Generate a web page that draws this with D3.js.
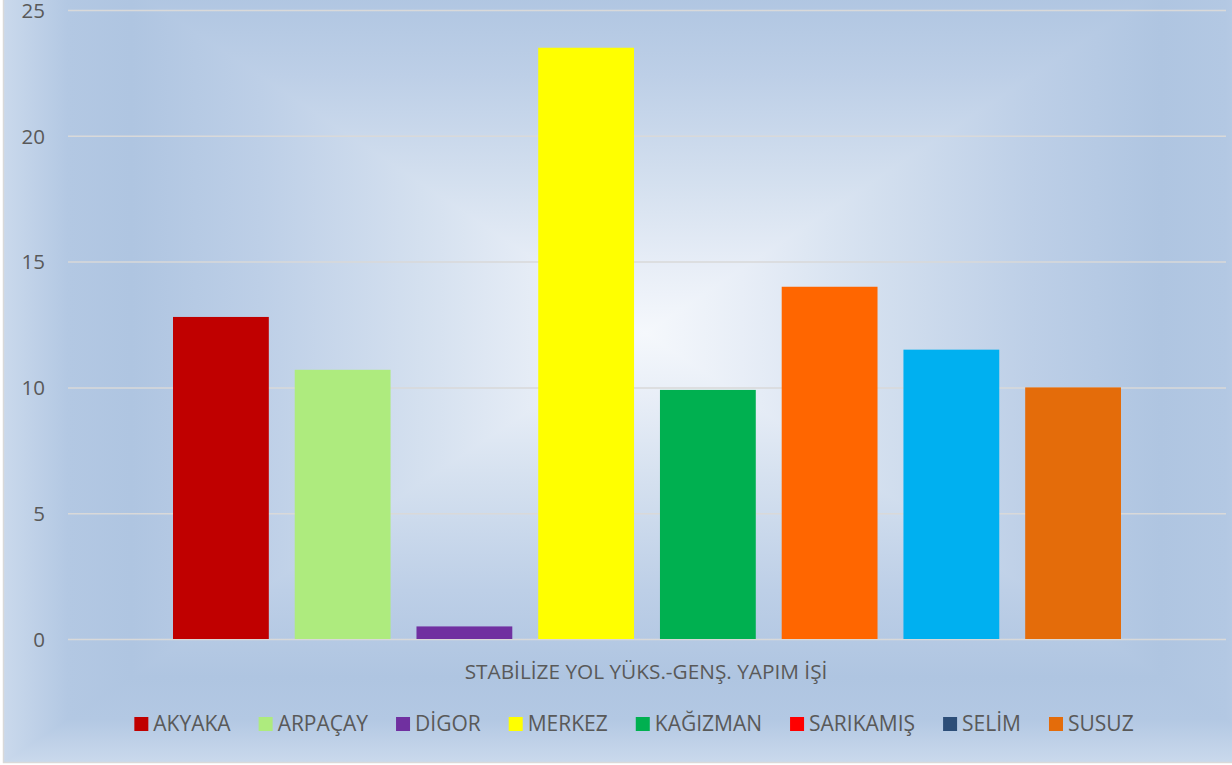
<!DOCTYPE html>
<html>
<head>
<meta charset="utf-8">
<script src="https://cdn.jsdelivr.net/npm/d3@7"></script>
<style>
  body { margin: 0; background: #ffffff; }
  svg { display: block; font-family: "Open Sans", "Noto Sans", sans-serif; }
</style>
</head>
<body>
<div class="chart"></div>
<script>
// values
var districts = ["AKYAKA", "ARPAÇAY", "DİGOR", "MERKEZ", "KAĞIZMAN", "SARIKAMIŞ", "SELİM", "SUSUZ"];
var values = [12.8, 10.7, 0.5, 23.5, 9.9, 14.0, 11.5, 10.0];
var barColors = ["#C00000", "#AEEB7E", "#7030A0", "#FFFF00", "#00B050", "#FF6600", "#00B0F0", "#E46C0A"];
var legendColors = ["#C00000", "#AEEB7E", "#7030A0", "#FFFF00", "#00B050", "#FF0000", "#2D4E78", "#E46C0A"];
var categoryLabel = "STABİLİZE YOL YÜKS.-GENŞ. YAPIM İŞİ";
var yTicks = [0, 5, 10, 15, 20, 25];

var width = 1232, height = 765;
var plot = {left: 68, right: 1226, top: 10, bottom: 639};
var textColor = "#595959";

var svg = d3.select(".chart").append("svg")
    .attr("width", width)
    .attr("height", height);

var defs = svg.append("defs");

// background: rectangular "from centre" gradient, done with a horizontal rect + top/bottom triangles
var frame = {x0: 3.5, x1: 1290, y0: -96, y1: 762.5, cx: 645, cy: 333};
var bgStops = [
    [0, "#f5f8fc"], [0.15, "#e8eef7"], [0.35, "#d4e0ef"], [0.6, "#bdcfe7"],
    [0.8, "#afc5e1"], [0.9, "#b3c8e3"], [1, "#cad9ec"]
];

function addGradient(id, x1, y1, x2, y2) {
    var g = defs.append("linearGradient")
        .attr("id", id)
        .attr("gradientUnits", "userSpaceOnUse")
        .attr("x1", x1).attr("y1", y1)
        .attr("x2", x2).attr("y2", y2);
    g.selectAll("stop")
        .data(bgStops)
        .enter().append("stop")
        .attr("offset", function(d) { return d[0]; })
        .attr("stop-color", function(d) { return d[1]; });
}

addGradient("bg-left", frame.cx, 0, frame.x0, 0);
addGradient("bg-right", frame.cx, 0, frame.x1, 0);
addGradient("bg-top", 0, frame.cy, 0, frame.y0);
addGradient("bg-bottom", 0, frame.cy, 0, frame.y1);

var bg = svg.append("g").attr("class", "background");

bg.append("rect")
    .attr("x", frame.x0).attr("y", frame.y0)
    .attr("width", frame.cx - frame.x0 + 0.5).attr("height", frame.y1 - frame.y0)
    .attr("fill", "url(#bg-left)");
bg.append("rect")
    .attr("x", frame.cx).attr("y", frame.y0)
    .attr("width", frame.x1 - frame.cx).attr("height", frame.y1 - frame.y0)
    .attr("fill", "url(#bg-right)");

bg.append("path")
    .attr("d", "M" + frame.x0 + "," + frame.y0 + "L" + frame.x1 + "," + frame.y0 + "L" + frame.cx + "," + frame.cy + "Z")
    .attr("fill", "url(#bg-top)");
bg.append("path")
    .attr("d", "M" + frame.x0 + "," + frame.y1 + "L" + frame.x1 + "," + frame.y1 + "L" + frame.cx + "," + frame.cy + "Z")
    .attr("fill", "url(#bg-bottom)");

// chart border
bg.append("rect")
    .attr("x", frame.x0).attr("y", frame.y0)
    .attr("width", frame.x1 - frame.x0).attr("height", frame.y1 - frame.y0)
    .attr("fill", "none")
    .attr("stroke", "#d9d9d9")
    .attr("stroke-width", 1.5);

var y = d3.scaleLinear()
    .domain([0, 25])
    .range([plot.bottom, plot.top]);

var x = d3.scaleBand()
    .domain(districts)
    .range([173, 1121])
    .paddingInner(0.213)
    .paddingOuter(0);

// gridlines + tick labels
var yAxis = d3.axisLeft(y)
    .tickValues(yTicks)
    .tickSize(-(plot.right - plot.left))
    .tickPadding(23)
    .tickFormat(d3.format("d"));

var axisG = svg.append("g")
    .attr("transform", "translate(" + plot.left + ",0)")
    .call(yAxis);

axisG.select(".domain").remove();
axisG.selectAll(".tick line")
    .attr("stroke", "#d9d9d9")
    .attr("stroke-width", 1.5);
axisG.selectAll(".tick text")
    .attr("fill", textColor)
    .attr("font-size", 20.5)
    .attr("dy", "0.36em")
    .attr("font-family", "\"Open Sans\", sans-serif");

// bars
svg.append("g").selectAll("rect")
    .data(values)
    .enter().append("rect")
    .attr("x", function(d, i) { return x(districts[i]); })
    .attr("y", function(d) { return y(d); })
    .attr("width", x.bandwidth())
    .attr("height", function(d) { return y(0) - y(d); })
    .attr("fill", function(d, i) { return barColors[i]; });

// category label
svg.append("text")
    .attr("x", 646)
    .attr("y", 679)
    .attr("text-anchor", "middle")
    .attr("fill", textColor)
    .attr("font-size", 20.8)
    .text(categoryLabel);

// legend
var legend = svg.append("g").attr("class", "legend");

var items = legend.selectAll("g")
    .data(districts)
    .enter().append("g");

items.append("rect")
    .attr("width", 14)
    .attr("height", 14)
    .attr("y", 717)
    .attr("fill", function(d, i) { return legendColors[i]; });

items.append("text")
    .attr("x", 19)
    .attr("y", 731)
    .attr("fill", textColor)
    .attr("font-size", 21)
    .text(function(d) { return d; });

var pos = 0, offsets = [];
items.each(function() {
    offsets.push(pos);
    pos += 19 + this.querySelector("text").getComputedTextLength() + 28;
});
var legendWidth = pos - 28;
var legendStart = 634 - legendWidth / 2;
items.attr("transform", function(d, i) { return "translate(" + (legendStart + offsets[i]) + ",0)"; });
</script>
</body>
</html>
